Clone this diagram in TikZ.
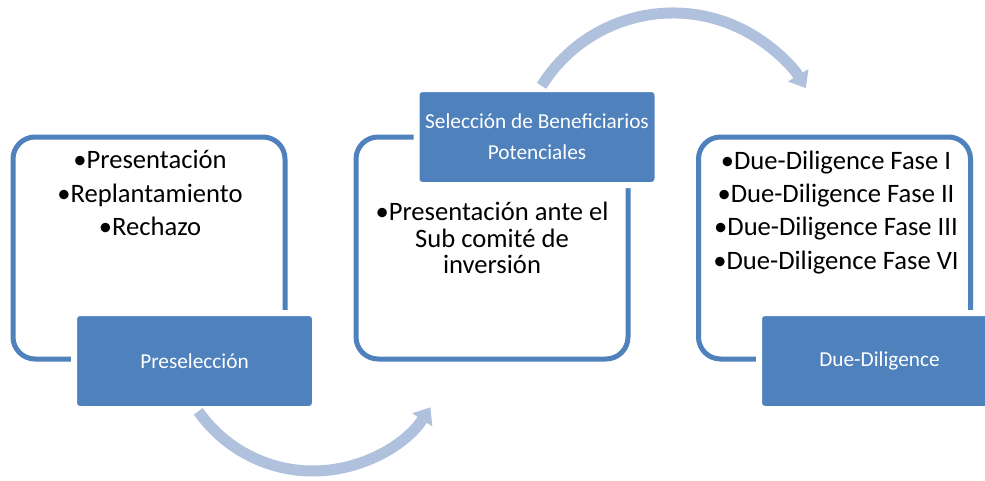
\documentclass[tikz,border=0pt]{standalone}
\usepackage{fontspec}
\setmainfont{Carlito}
\usetikzlibrary{arrows.meta,calc}
\definecolor{accent}{RGB}{79,129,189}
\definecolor{arrowblue}{RGB}{176,193,221}
\tikzset{
  outerbox/.style={draw=accent, line width=5pt, rounded corners=22pt, minimum width=272pt, minimum height=222pt, inner sep=0pt},
  labelbox/.style={fill=accent, draw=white, line width=6pt, rounded corners=6pt, minimum width=241pt, minimum height=96pt, inner sep=0pt, text=white, font=\fontsize{21.3}{31}\selectfont, align=center},
  bodytext/.style={anchor=base, inner sep=0pt, font=\fontsize{26.6}{27}\selectfont, text=black},
  flowarrow/.style={draw=arrowblue, line width=11pt, line cap=butt, -{Triangle[length=15pt,width=23pt]}}
}
\begin{document}
\begin{tikzpicture}[x=1pt,y=1pt]
\useasboundingbox (0,0) rectangle (985,-480);
\clip (0,0) rectangle (985,-480);
\fill[white] (0,0) rectangle (985,-480);

% outer boxes
\node[outerbox] (b1) at (149,-248) {};
\node[outerbox] (b2) at (492,-248) {};
\node[outerbox] (b3) at (834.5,-248) {};

% labels
\node[labelbox] (l1) at (194.5,-361) {Preselección};
\node[labelbox] (l2) at (537,-137) {Selección de Beneficiarios\\Potenciales};
\node[labelbox] (l3) at (879.5,-361) {Due-Diligence};

% texts box 1
\node[bodytext] (t1a) at (150,-168) {•Presentación};
\node[bodytext] (t1b) at (150,-202) {•Replantamiento};
\node[bodytext] (t1c) at (150,-235) {•Rechazo};

% texts box 2
\node[bodytext] (t2a) at (492,-220) {•Presentación ante el};
\node[bodytext] (t2b) at (492,-247) {Sub comité de};
\node[bodytext] (t2c) at (492,-273) {inversión};

% texts box 3
\node[bodytext] (t3a) at (836,-169) {•Due-Diligence Fase I};
\node[bodytext] (t3b) at (836,-202) {•Due-Diligence Fase II};
\node[bodytext] (t3c) at (836,-235) {•Due-Diligence Fase III};
\node[bodytext] (t3d) at (836,-269) {•Due-Diligence Fase VI};

% arrows
\coordinate (a1s) at ($(313,-331)+(215:140)$);
\coordinate (a2s) at ($(673,-168)+(148:155)$);
\draw[flowarrow] (a1s) arc[start angle=215, end angle=327, radius=140];
\draw[flowarrow] (a2s) arc[start angle=148, end angle=31, radius=155];
\end{tikzpicture}
\end{document}
